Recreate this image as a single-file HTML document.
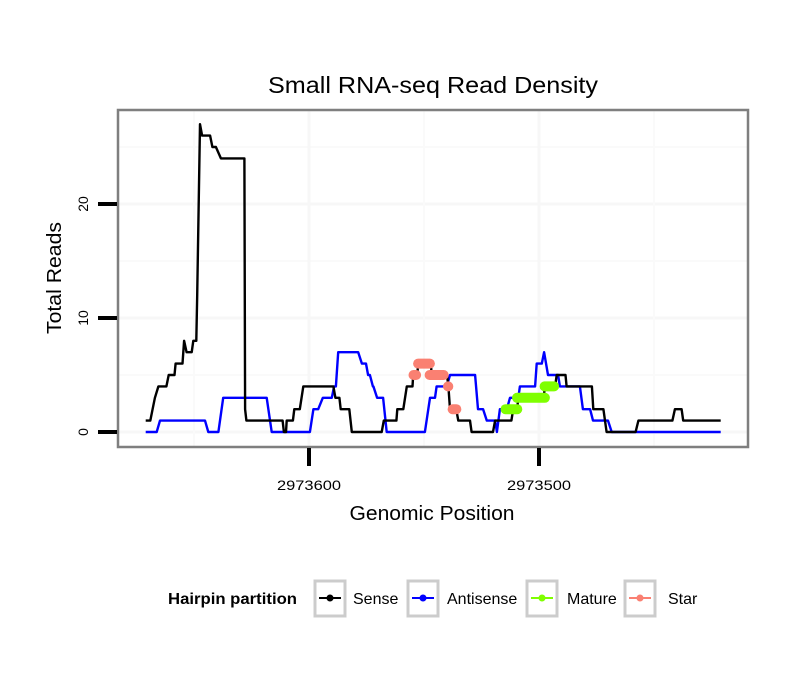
<!DOCTYPE html>
<html><head><meta charset="utf-8"><style>
body{margin:0;background:#fff;}
svg{display:block;font-family:"Liberation Sans",sans-serif;}
</style></head><body>
<svg id="chart" width="810" height="690">
<rect x="0" y="0" width="810" height="690" fill="#fff"/>
<text x="433" y="93" text-anchor="middle" font-size="23" textLength="330" lengthAdjust="spacingAndGlyphs" fill="#000">Small RNA-seq Read Density</text>
<g id="grid"></g>
<g id="series"></g>
<rect x="118" y="110" width="630" height="337" fill="none" stroke="#7f7f7f" stroke-width="2.5"/>
<g id="axes"></g>
<text x="432" y="520" text-anchor="middle" font-size="20" textLength="165" lengthAdjust="spacingAndGlyphs">Genomic Position</text>
<text transform="translate(61,278) rotate(-90)" text-anchor="middle" font-size="20" textLength="112" lengthAdjust="spacingAndGlyphs">Total Reads</text>
<g>
<text x="168" y="604" font-size="16" font-weight="bold" textLength="129" lengthAdjust="spacingAndGlyphs">Hairpin partition</text>
<g>
<rect x="315" y="581" width="30" height="35" fill="#fff" stroke="#cccccc" stroke-width="3"/>
<line x1="319" y1="598" x2="341" y2="598" stroke="#000" stroke-width="2"/><circle cx="330" cy="598" r="3.5" fill="#000"/>
<text x="353" y="604" font-size="16">Sense</text></g>
<g>
<rect x="408" y="581" width="30" height="35" fill="#fff" stroke="#cccccc" stroke-width="3"/>
<line x1="412" y1="598" x2="434" y2="598" stroke="#0000ff" stroke-width="2"/><circle cx="423" cy="598" r="3.5" fill="#0000ff"/>
<text x="447" y="604" font-size="16">Antisense</text></g>
<g>
<rect x="527" y="581" width="30" height="35" fill="#fff" stroke="#cccccc" stroke-width="3"/>
<line x1="531" y1="598" x2="553" y2="598" stroke="#7fff00" stroke-width="2"/><circle cx="542" cy="598" r="3.5" fill="#7fff00"/>
<text x="567" y="604" font-size="16">Mature</text></g>
<g>
<rect x="625" y="581" width="30" height="35" fill="#fff" stroke="#cccccc" stroke-width="3"/>
<line x1="629" y1="598" x2="651" y2="598" stroke="#fa8072" stroke-width="2"/><circle cx="640" cy="598" r="3.5" fill="#fa8072"/>
<text x="668" y="604" font-size="16">Star</text></g>
</g>
</svg>
<script>
const senseOff=[71,69,68,67,65.5,62,61,58.5,58,55,54.3,53.2,51,50.3,49,48.6,47.4,46.5,43,42,40.5,38.3,28.1,27.8,27.2,11.5,10.9,10,9.7,7,6.4,4,2.5,-10.6,-11.5,-13.2,-13.8,-17.5,-18.6,-31.6,-32.5,-38,-38.4,-41,-42.5,-45,-45.3,-47,-47.5,-53,-53.3,-60,-60.6,-61.3,-64,-64.9,-70,-70.7,-80,-80.9,-88,-88.8,-90.5,-91,-102,-102.6,-107,-107.7,-111.5,-112,-123,-123.6,-128,-129.4,-142,-143.2,-158,-159.1,-162,-162.7,-179];
const senseVal=[1,1,2,3,4,4,5,5,6,6,8,7,7,8,8,12,27,26,26,25,25,24,24,2,1,1,0,0,1,1,2,2,4,4,3,3,2,2,0,0,1,1,2,2,4,4,5,5,6,6,5,5,4,2,2,1,1,0,0,1,1,2,2,3,3,4,4,5,5,4,4,2,2,0,0,1,1,2,2,1,1];
const antiOff=[71,66.2,64.8,45.2,43.8,39.4,37.3,18.4,16.2,-0.4,-1.9,-4,-6,-9.9,-10.9,-11.7,-12.7,-21.4,-23,-24.8,-25.7,-26.5,-27.8,-28,-29.6,-30,-32.2,-33.8,-50.4,-52.6,-54.8,-55.5,-59.9,-61.3,-72.2,-73.5,-75.7,-77.3,-80.9,-81.7,-83,-86,-87.4,-91,-91.7,-98.3,-99,-101.2,-102.2,-103.9,-108.3,-109.1,-117.8,-119.1,-122.2,-123.5,-130,-131.6,-179];
const antiVal=[0,0,1,1,0,0,3,3,0,0,2,2,3,3,4,4,7,7,6,6,5,5,4,4,3,3,3,0,0,3,3,4,4,5,5,2,2,1,1,0,2,2,3,3,4,4,6,6,7,5,5,4,4,2,2,1,1,0,0];
const matureStart=[-85,-90,-102];
const matureEnd=[-91,-103,-107];
const matureVal=[2,3,4];
const starStart=[-45,-47,-52,-60,-62];
const starEnd=[-47,-53,-59,-61,-64.5];
const starVal=[5,6,5,4,2];
const yTicks=[0,10,20];
const xTicks=[2973600,2973500];
const BASE=2973600;
const NS="http://www.w3.org/2000/svg";
function xs(off){return 309-off*2.3;}
function xPos(p){return xs(p-BASE);}
function ys(v){return 432-v*11.4;}
function mk(tag,attrs,parent){const e=document.createElementNS(NS,tag);for(const k in attrs)e.setAttribute(k,attrs[k]);parent.appendChild(e);return e;}
const grid=document.getElementById('grid'),series=document.getElementById('series'),axes=document.getElementById('axes');
[5,15,25].forEach(v=>{const l=mk('line',{x1:118,x2:748,y1:ys(v),y2:ys(v),stroke:'#fafafa','stroke-width':2},grid);

});
yTicks.forEach(v=>{const l=mk('line',{x1:118,x2:748,y1:ys(v),y2:ys(v),stroke:'#f7f7f7','stroke-width':3},grid);

});
[50,-50,-150].forEach(o=>{const l=mk('line',{x1:xs(o),x2:xs(o),y1:110,y2:447,stroke:'#fafafa','stroke-width':2},grid);

});
xTicks.forEach(p=>{const l=mk('line',{x1:xPos(p),x2:xPos(p),y1:110,y2:447,stroke:'#f7f7f7','stroke-width':3},grid);

});
function line(off,val,color,name){const pts=off.map((o,i)=>xs(o).toFixed(1)+','+ys(val[i]).toFixed(1)).join(' ');
const p=mk('polyline',{points:pts,fill:'none',stroke:color,'stroke-width':2.4,'stroke-linejoin':'round'},series);

}
line(antiOff,antiVal,'#0000ff','antisense-line');
line(senseOff,senseVal,'#000000','sense-line');
function blobs(st,en,val,color,name){st.forEach((s,i)=>{const x1=xs(s),x2=xs(en[i]);
const r=mk('rect',{x:Math.min(x1,x2)-4,y:ys(val[i])-5,width:Math.abs(x2-x1)+8,height:10,rx:5,fill:color},series);

});}
blobs(matureStart,matureEnd,matureVal,'#7fff00','mature-segment');
blobs(starStart,starEnd,starVal,'#fa8072','star-segment');
yTicks.forEach(v=>{const l=mk('line',{x1:98,x2:117,y1:ys(v),y2:ys(v),stroke:'#000','stroke-width':4},axes);


const t=mk('text',{transform:`translate(88,${ys(v)}) rotate(-90)`,'text-anchor':'middle','font-size':14},axes);t.textContent=v;

});
xTicks.forEach(p=>{const l=mk('line',{x1:xPos(p),x2:xPos(p),y1:448,y2:466,stroke:'#000','stroke-width':4},axes);


const t=mk('text',{x:xPos(p),y:490,'text-anchor':'middle','font-size':14,textLength:64,lengthAdjust:'spacingAndGlyphs'},axes);t.textContent=p;

});
</script>
</body></html>
